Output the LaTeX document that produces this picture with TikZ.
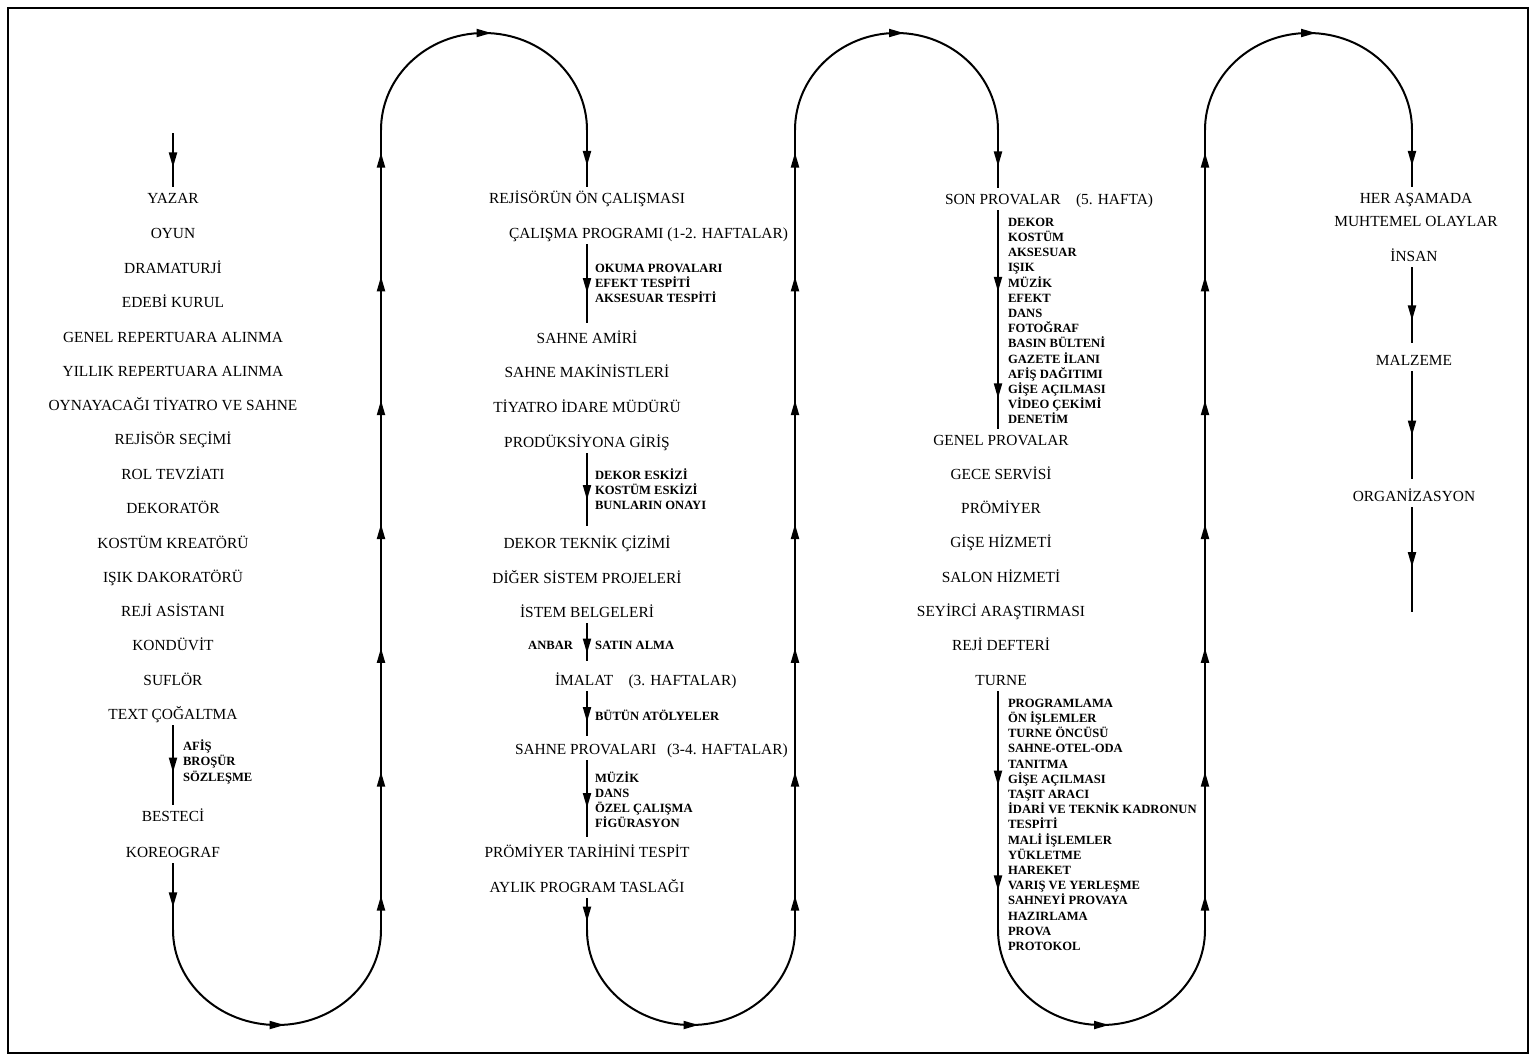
\documentclass[tikz,border=0pt]{standalone}
\usepackage{fontspec}
\setmainfont{Liberation Serif}
\usetikzlibrary{arrows.meta,decorations.markings}

\newcommand\labfont{\fontsize{7.7}{9}\selectfont}
\newcommand\subfont{\fontsize{6.3}{7.6}\selectfont\bfseries}
% arrow head centred on the marking position
\newcommand\midtip{\pgftransformxshift{3.75pt}\arrow{Triangle[length=7.5pt,width=4pt]}}

\tikzset{
  lab/.style={font=\labfont, inner sep=0pt, outer xsep=0pt, outer ysep=3pt,
              text height=5.1pt, text depth=0pt},
  sub/.style={font=\subfont, inner sep=0pt, outer sep=0pt,
              text height=4.2pt, text depth=0pt, anchor=west},
  flow/.style={line width=1pt},
  tip/.style={postaction={decorate, decoration={markings,
              mark=at position #1 with {\midtip}}}},
}

\begin{document}
\begin{tikzpicture}[x=0.5pt, y=-0.5pt]
\useasboundingbox (0,0) rectangle (1532,1057);
\draw[line width=1.2pt] (8,8) rectangle (1528,1053);

% ---------- column 1 ----------
\node[lab] (yazar) at (173,198) {YAZAR};
\node[lab] (oyun)  at (173,233) {OYUN};
\node[lab] (drama) at (173,268) {DRAMATURJİ};
\node[lab] (edebi) at (173,302) {EDEBİ KURUL};
\node[lab] (genr)  at (173,337) {GENEL REPERTUARA ALINMA};
\node[lab] (yilr)  at (173,371) {YILLIK REPERTUARA ALINMA};
\node[lab] (oyna)  at (173,405) {OYNAYACAĞI TİYATRO VE SAHNE};
\node[lab] (rsec)  at (173,439) {REJİSÖR SEÇİMİ};
\node[lab] (rolt)  at (173,474) {ROL TEVZİATI};
\node[lab] (deko)  at (173,508) {DEKORATÖR};
\node[lab] (kost)  at (173,543) {KOSTÜM KREATÖRÜ};
\node[lab] (isik)  at (173,577) {IŞIK DAKORATÖRÜ};
\node[lab] (rasis) at (173,611) {REJİ ASİSTANI};
\node[lab] (kond)  at (173,645) {KONDÜVİT};
\node[lab] (sufl)  at (173,680) {SUFLÖR};
\node[lab] (textc) at (173,714) {TEXT ÇOĞALTMA};
\foreach \t [count=\i from 0] in {AFİŞ, BROŞÜR, SÖZLEŞME}
  \node[sub] (afis\i) at (183,746+15.5*\i) {\t};
\node[lab] (beste) at (173,816) {BESTECİ};
\node[lab] (koreo) at (173,852) {KOREOGRAF};

% ---------- column 2 ----------
\node[lab] (rejo)  at (587,198) {REJİSÖRÜN ÖN ÇALIŞMASI};
\node[lab, anchor=west] (calp) at (509,233) {ÇALIŞMA PROGRAMI (1-2. HAFTALAR)};
\foreach \t [count=\i from 0] in {OKUMA PROVALARI, EFEKT TESPİTİ, AKSESUAR TESPİTİ}
  \node[sub] (oku\i) at (595,268+15*\i) {\t};
\node[lab] (samir) at (587,338) {SAHNE AMİRİ};
\node[lab] (smak)  at (587,372) {SAHNE MAKİNİSTLERİ};
\node[lab] (tidar) at (587,407) {TİYATRO İDARE MÜDÜRÜ};
\node[lab] (prod)  at (587,442) {PRODÜKSİYONA GİRİŞ};
\foreach \t [count=\i from 0] in {DEKOR ESKİZİ, KOSTÜM ESKİZİ, BUNLARIN ONAYI}
  \node[sub] (esk\i) at (595,475+15*\i) {\t};
\node[lab] (dtek)  at (587,543) {DEKOR TEKNİK ÇİZİMİ};
\node[lab] (diger) at (587,578) {DİĞER SİSTEM PROJELERİ};
\node[lab] (istem) at (587,612) {İSTEM BELGELERİ};
\node[sub, anchor=east] (anbar) at (573,645) {ANBAR};
\node[sub] (satin) at (595,645) {SATIN ALMA};
\node[lab, anchor=west] (imal) at (555,680) {İMALAT\hspace{1em}(3. HAFTALAR)};
\node[sub] (atol) at (595,716) {BÜTÜN ATÖLYELER};
\node[lab, anchor=west] (sprov) at (515,749) {SAHNE PROVALARI\hspace{0.7em}(3-4. HAFTALAR)};
\foreach \t [count=\i from 0] in {MÜZİK, DANS, ÖZEL ÇALIŞMA, FİGÜRASYON}
  \node[sub] (muz\i) at (595,778+15*\i) {\t};
\node[lab] (ptar)  at (587,852) {PRÖMİYER TARİHİNİ TESPİT};
\node[lab] (aylik) at (587,887) {AYLIK PROGRAM TASLAĞI};

% ---------- column 3 ----------
\node[lab, anchor=west] (son) at (945,199) {SON PROVALAR\hspace{1em}(5. HAFTA)};
\foreach \t [count=\i from 0] in {DEKOR, KOSTÜM, AKSESUAR, IŞIK, MÜZİK, EFEKT, DANS,
    FOTOĞRAF, BASIN BÜLTENİ, GAZETE İLANI, AFİŞ DAĞITIMI, GİŞE AÇILMASI,
    VİDEO ÇEKİMİ, DENETİM}
  \node[sub] (sp\i) at (1008,222+15.2*\i) {\t};
\node[lab] (genp)  at (1001,440) {GENEL PROVALAR};
\node[lab] (gece)  at (1001,474) {GECE SERVİSİ};
\node[lab] (prom)  at (1001,508) {PRÖMİYER};
\node[lab] (gise)  at (1001,542) {GİŞE HİZMETİ};
\node[lab] (salon) at (1001,577) {SALON HİZMETİ};
\node[lab] (seyir) at (1001,611) {SEYİRCİ ARAŞTIRMASI};
\node[lab] (rdef)  at (1001,645) {REJİ DEFTERİ};
\node[lab] (turne) at (1001,680) {TURNE};
\foreach \t [count=\i from 0] in {PROGRAMLAMA, ÖN İŞLEMLER, TURNE ÖNCÜSÜ, SAHNE-OTEL-ODA,
    TANITMA, GİŞE AÇILMASI, TAŞIT ARACI, İDARİ VE TEKNİK KADRONUN, TESPİTİ,
    MALİ İŞLEMLER, YÜKLETME, HAREKET, VARIŞ VE YERLEŞME, SAHNEYİ PROVAYA,
    HAZIRLAMA, PROVA, PROTOKOL}
  \node[sub] (tr\i) at (1008,703+15.2*\i) {\t};

% ---------- column 4 ----------
\node[lab] (her)   at (1416,198) {HER AŞAMADA};
\node[lab] (muht)  at (1416,221) {MUHTEMEL OLAYLAR};
\node[lab] (insan) at (1414,256) {İNSAN};
\node[lab] (malz)  at (1414,360) {MALZEME};
\node[lab] (org)   at (1414,496) {ORGANİZASYON};

% ---------- turning points of the flow line ----------
\coordinate (start) at (173,133);
\coordinate (b1l) at (173,930);  \coordinate (b1r) at (381,930);
\coordinate (t1l) at (381,130);  \coordinate (t1r) at (587,130);
\coordinate (b2l) at (587,930);  \coordinate (b2r) at (795,930);
\coordinate (t2l) at (795,130);  \coordinate (t2r) at (998,130);
\coordinate (b3l) at (998,930);  \coordinate (b3r) at (1205,930);
\coordinate (t3l) at (1205,130); \coordinate (t3r) at (1412,130);
\coordinate (end) at (1412,612);

\tikzset{riser/.style={flow, tip=.03375, tip=.18854, tip=.34333, tip=.49813,
                       tip=.65292, tip=.80771, tip=.9625}}

% column 1 and first loop
\draw[flow, tip=.5] (start) -- (yazar.north);
\draw[flow, tip=.5] (textc.south) -- (beste.north);
\draw[flow, tip=.55] (koreo.south) -- (b1l);
\draw[flow, tip=.5] (b1l) arc[start angle=180, end angle=360, x radius=52pt, y radius=47.5pt];
\draw[riser] (b1r) -- (t1l);
\draw[flow, tip=.5] (t1l) arc[start angle=180, end angle=0, x radius=51.5pt, y radius=48.5pt];
\draw[flow, tip=.5] (t1r) -- (rejo.north);

% column 2 and second loop
\draw[flow, tip=.5, shorten >=2pt] (calp.south -| t1r) -- (samir.north);
\draw[flow, tip=.5, shorten >=3pt] (prod.south) -- (dtek.north);
\draw[flow, tip=.5, shorten >=4pt] (istem.south) -- (imal.north -| t1r);
\draw[flow, tip=.5, shorten >=1pt] (imal.south -| t1r) -- (sprov.north -| t1r);
\draw[flow, tip=.5, shorten >=2pt] (sprov.south -| t1r) -- (ptar.north);
\draw[flow, tip=.5] (aylik.south) -- (b2l);
\draw[flow, tip=.5] (b2l) arc[start angle=180, end angle=360, x radius=52pt, y radius=47.5pt];
\draw[riser] (b2r) -- (t2l);
\draw[flow, tip=.5] (t2l) arc[start angle=180, end angle=0, x radius=50.75pt, y radius=48.5pt];
\draw[flow, tip=.5] (t2r) -- (son.north -| t2r);

% column 3 and third loop
\draw[flow, tip=.339, tip=.826] (son.south -| t2r) -- (genp.north -| t2r);
\draw[flow, tip=.364, tip=.803] (turne.south -| b3l) -- (b3l);
\draw[flow, tip=.5] (b3l) arc[start angle=180, end angle=360, x radius=51.75pt, y radius=47.5pt];
\draw[riser] (b3r) -- (t3l);
\draw[flow, tip=.5] (t3l) arc[start angle=180, end angle=0, x radius=51.75pt, y radius=48.5pt];
\draw[flow, tip=.5] (t3r) -- (her.north -| t3r);

% column 4
\draw[flow, tip=.56, shorten >=3pt] (insan.south -| t3r) -- (malz.north -| t3r);
\draw[flow, tip=.5, shorten >=3pt] (malz.south -| t3r) -- (org.north -| t3r);
\draw[flow, tip=.5] (org.south -| t3r) -- (end);
\end{tikzpicture}
\end{document}
